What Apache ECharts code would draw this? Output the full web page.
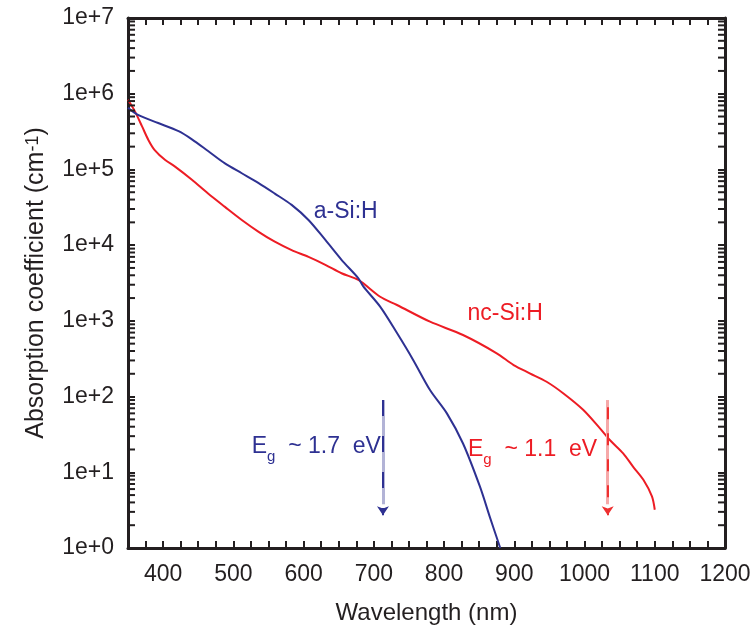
<!DOCTYPE html>
<html><head><meta charset="utf-8">
<script src="https://cdn.jsdelivr.net/npm/echarts@6/dist/echarts.min.js"></script>
<style>html,body{margin:0;padding:0;background:#fff}#c{width:754px;height:630px}</style>
</head><body><div id="c"></div>
<script>
// ---- data ----
const aSiWavelength = [350, 365, 393, 422, 441, 464, 488, 512, 536, 559, 583, 607, 631, 654, 678, 685, 709, 733, 756, 780, 804, 827, 851, 865, 880];
const aSiAlpha      = [6.5e5, 5.2e5, 4.1e5, 3.2e5, 2.5e5, 1.75e5, 1.2e5, 8.9e4, 6.6e4, 4.8e4, 3.4e4, 2.15e4, 1.17e4, 6.4e3, 3.65e3, 2.85e3, 1.54e3, 690, 305, 122, 60, 24, 6.5, 2.6, 1.0];
const ncSiWavelength = [350, 360, 370, 379, 388, 403, 417, 441, 464, 488, 512, 536, 559, 583, 607, 631, 654, 678, 709, 733, 780, 827, 875, 899, 922, 946, 970, 998, 1022, 1036, 1055, 1069, 1084, 1096, 1100];
const ncSiAlpha      = [8.3e5, 5.8e5, 3.7e5, 2.45e5, 1.8e5, 1.33e5, 1.09e5, 7.3e4, 4.8e4, 3.2e4, 2.15e4, 1.5e4, 1.11e4, 8.6e3, 7.0e3, 5.5e3, 4.25e3, 3.47e3, 2.08e3, 1.62e3, 975, 650, 373, 261, 203, 157, 110, 67, 38, 26.7, 17.8, 11.9, 7.9, 4.8, 3.2];
const xTickLabels = [400, 500, 600, 700, 800, 900, 1000, 1100, 1200];
const yTickLabels = ['1e+0', '1e+1', '1e+2', '1e+3', '1e+4', '1e+5', '1e+6', '1e+7'];
const minorMultipliers = [2, 3, 4, 5, 6, 7, 8, 9];
const decades = [1, 10, 100, 1e3, 1e4, 1e5, 1e6];
const gapArrowWavelength = [713, 1033];
const gapArrowFrom = [90, 90];
const gapArrowTo = [2.7, 2.7];
const seriesLabels = ['a-Si:H', 'nc-Si:H'];
const seriesLabelAt = [[660, 2.74e4], [887, 1250]];
const gapLabels = ['1.7', '1.1'];
const gapLabelAt = [[710, 21], [1018, 19]];

// ---- styling ----
const X_MIN = 350, X_MAX = 1200, Y_MIN = 1, Y_MAX = 1e7;
const BLUE = '#2e3192', RED = '#ed1c24', INK = '#231f20';
const FONT = "'Liberation Sans', Arial, sans-serif";

const minorTicks = [];
decades.forEach(d => minorMultipliers.forEach(m => minorTicks.push([X_MIN, d * m])));

function pairs(xs, ys) { return xs.map((x, i) => [x, ys[i]]); }

const axisBase = {
  axisLine: { show: true, onZero: false, lineStyle: { color: INK, width: 3 } },
  axisTick: { show: true, inside: true, length: 7, lineStyle: { color: INK, width: 2 } },
  splitLine: { show: false }
};

const chart = echarts.init(document.getElementById('c'), null, { renderer: 'canvas' });
chart.setOption({
  backgroundColor: '#fff',
  animation: false,
  grid: { left: 128, right: 29, top: 18, bottom: 82, containLabel: false },
  xAxis: [
    Object.assign({}, axisBase, {
      type: 'value', min: X_MIN, max: X_MAX, interval: 25, position: 'bottom',
      name: 'Wavelength (nm)', nameLocation: 'middle', nameGap: 53,
      nameTextStyle: { color: INK, fontSize: 24, fontFamily: FONT },
      axisLabel: {
        color: INK, fontSize: 23, fontFamily: FONT, margin: 15,
        formatter: v => (xTickLabels.indexOf(v) >= 0 ? String(v) : '')
      }
    }),
    Object.assign({}, axisBase, {
      type: 'value', min: X_MIN, max: X_MAX, interval: 25, position: 'top',
      axisLabel: { show: false }
    })
  ],
  yAxis: [
    Object.assign({}, axisBase, {
      type: 'log', logBase: 10, min: Y_MIN, max: Y_MAX, position: 'left',
      name: 'Absorption coefficient (cm{sup|-1})', nameLocation: 'middle', nameGap: 79,
      nameTextStyle: {
        color: INK, fontSize: 25, fontFamily: FONT,
        rich: {
          sup: { fontSize: 18, fontFamily: FONT, color: INK, verticalAlign: 'top', lineHeight: 18 }
        },
        lineHeight: 25, padding: [10, 0, 0, 0], verticalAlign: 'bottom'
      },
      axisLabel: {
        color: INK, fontSize: 23, fontFamily: FONT, margin: 14,
        formatter: v => yTickLabels[Math.round(Math.log10(v))]
      }
    }),
    Object.assign({}, axisBase, {
      type: 'log', logBase: 10, min: Y_MIN, max: Y_MAX, position: 'right',
      axisLabel: { show: false }
    })
  ],
  series: [
    {
      name: 'nc-Si:H', type: 'line', data: pairs(ncSiWavelength, ncSiAlpha),
      showSymbol: false, smooth: 0.3, z: 3,
      lineStyle: { color: RED, width: 2 },
      markLine: {
        silent: true, animation: false, label: { show: false },
        data: [
          [{ coord: [gapArrowWavelength[1], gapArrowFrom[1]], symbol: 'none', lineStyle: { color: '#f6a9a9', width: 3, type: 'solid' } },
           { coord: [gapArrowWavelength[1], gapArrowTo[1] * 1.4], symbol: 'none' }],
          [{ coord: [gapArrowWavelength[1], gapArrowFrom[1] * 0.8], symbol: 'none', lineStyle: { color: '#ee3030', width: 2, type: [12, 14] } },
           { coord: [gapArrowWavelength[1], gapArrowTo[1]], symbol: 'arrow', symbolSize: 9 }]
        ]
      }
    },
    {
      name: 'a-Si:H', type: 'line', data: pairs(aSiWavelength, aSiAlpha),
      showSymbol: false, smooth: 0.3, z: 4,
      lineStyle: { color: BLUE, width: 2 },
      markLine: {
        silent: true, animation: false, label: { show: false },
        data: [
          [{ coord: [gapArrowWavelength[0], gapArrowFrom[0]], symbol: 'none', lineStyle: { color: '#b2b3d6', width: 3, type: 'solid' } },
           { coord: [gapArrowWavelength[0], gapArrowTo[0] * 1.4], symbol: 'none' }],
          [{ coord: [gapArrowWavelength[0], gapArrowFrom[0]], symbol: 'none', lineStyle: { color: BLUE, width: 2, type: [16, 20] } },
           { coord: [gapArrowWavelength[0], gapArrowTo[0]], symbol: 'arrow', symbolSize: 9 }]
        ]
      }
    },
    {
      name: 'minor ticks', type: 'custom', silent: true, z: 6, clip: false,
      data: minorTicks,
      renderItem: function (params, api) {
        const v = api.value(1);
        const pl = api.coord([X_MIN, v]);
        const pr = api.coord([X_MAX, v]);
        const st = { stroke: INK, lineWidth: 2 };
        return {
          type: 'group', children: [
            { type: 'line', shape: { x1: pl[0], y1: pl[1], x2: pl[0] + 7, y2: pl[1] }, style: st },
            { type: 'line', shape: { x1: pr[0] - 7, y1: pr[1], x2: pr[0], y2: pr[1] }, style: st }
          ]
        };
      }
    },
    {
      name: 'labels', type: 'custom', silent: true, z: 7, clip: false,
      data: [0, 1, 2, 3].map(i => [i]),
      encode: { x: -1, y: -1 },
      renderItem: function (params, api) {
        const i = params.dataIndex;
        if (i < 2) {
          const p = api.coord(seriesLabelAt[i]);
          return {
            type: 'text', x: p[0], y: p[1],
            style: { text: seriesLabels[i], fill: i === 0 ? BLUE : RED, fontSize: 23, fontFamily: FONT, align: 'center', verticalAlign: 'middle' }
          };
        }
        const k = i - 2;
        const p = api.coord(gapLabelAt[k]);
        const col = k === 0 ? BLUE : RED;
        return {
          type: 'text', x: p[0], y: p[1],
          style: {
            text: '{m|E}{s|g}{m|  ~ ' + gapLabels[k] + '  eV}',
            fill: col, align: 'right', verticalAlign: 'middle',
            rich: {
              m: { fontSize: 23, fontFamily: FONT, fill: col, lineHeight: 26, verticalAlign: 'top' },
              s: { fontSize: 15, fontFamily: FONT, fill: col, lineHeight: 15, padding: [14, 0, 0, 0], verticalAlign: 'top' }
            }
          }
        };
      }
    }
  ]
});
</script>
</body></html>
